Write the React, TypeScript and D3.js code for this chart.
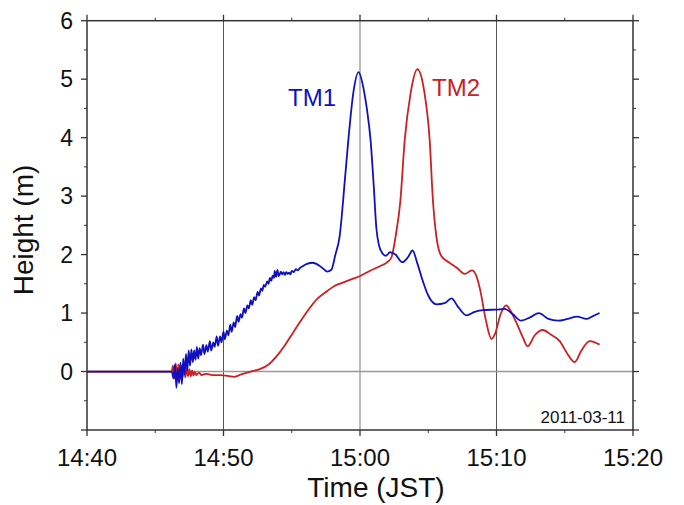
import React from "react";
import * as d3 from "d3";

// minutes after 14:40 JST, height (m)
const tm1Time = [0, 3, 6.2, 6.35, 6.45, 6.55, 6.65, 6.75, 6.85, 6.95, 7.05, 7.15, 7.25, 7.35, 7.45, 7.55, 7.65, 7.75, 7.85, 7.95, 8.05, 8.15, 8.25, 8.35, 8.5, 8.6, 8.75, 8.85, 9.0, 9.1, 9.25, 9.35, 9.5, 9.6, 9.75, 9.85, 10.0, 10.1, 10.25, 10.35, 10.5, 10.6, 10.75, 10.85, 11.0, 11.1, 11.25, 11.35, 11.5, 11.6, 11.75, 11.85, 12.0, 12.1, 12.25, 12.35, 12.5, 12.6, 12.75, 12.85, 12.95, 13.05, 13.2, 13.3, 13.4, 13.5, 13.6, 13.7, 13.75, 13.85, 13.95, 14.05, 14.2, 14.3, 14.4, 14.5, 14.6, 14.7, 14.8, 14.9, 15.0, 15.15, 15.3, 15.45, 15.6, 15.8, 16.0, 16.5, 16.8, 17.2, 17.6, 17.9, 18.2, 18.5, 18.9, 19.15, 19.5, 19.9, 20.25, 20.5, 20.77, 21.0, 21.2, 21.4, 21.65, 21.9, 22.2, 22.6, 23.1, 23.5, 23.85, 24.2, 24.6, 25.0, 25.6, 26.2, 26.7, 27.2, 27.8, 28.4, 29.0, 30.0, 30.6, 31.2, 31.8, 32.5, 33.1, 33.8, 34.5, 35.2, 35.9, 36.6, 37.0, 37.55];
const tm1Height = [0, 0, 0, -0.12, 0.12, -0.28, 0.05, -0.2, 0.15, -0.22, 0.22, -0.05, 0.3, 0.02, 0.36, 0.1, 0.38, 0.16, 0.36, 0.2, 0.42, 0.22, 0.4, 0.28, 0.46, 0.3, 0.45, 0.34, 0.52, 0.36, 0.5, 0.42, 0.6, 0.44, 0.6, 0.5, 0.68, 0.55, 0.7, 0.62, 0.8, 0.68, 0.84, 0.76, 0.95, 0.85, 0.98, 0.92, 1.08, 1.0, 1.13, 1.08, 1.22, 1.14, 1.27, 1.22, 1.36, 1.3, 1.42, 1.38, 1.48, 1.45, 1.54, 1.5, 1.6, 1.55, 1.64, 1.6, 1.72, 1.62, 1.74, 1.63, 1.71, 1.66, 1.7, 1.65, 1.7, 1.67, 1.69, 1.66, 1.72, 1.7, 1.75, 1.73, 1.77, 1.8, 1.83, 1.86, 1.84, 1.78, 1.71, 1.74, 2.0, 2.3, 3.3, 3.97, 4.75, 5.12, 4.85, 4.5, 3.97, 3.2, 2.45, 2.15, 2.02, 1.98, 2.04, 2.0, 1.87, 1.95, 2.07, 1.85, 1.55, 1.3, 1.15, 1.17, 1.25, 1.1, 0.96, 1.02, 1.05, 1.06, 1.07, 0.98, 0.87, 0.93, 1.0, 0.9, 0.87, 0.9, 0.94, 0.9, 0.94, 1.0];

const tm2Time = [0, 6.2, 6.3, 6.4, 6.5, 6.6, 6.7, 6.8, 6.9, 7.0, 7.1, 7.2, 7.3, 7.4, 7.5, 7.6, 7.7, 7.8, 7.9, 8.0, 8.2, 8.4, 8.7, 9.2, 9.8, 10.4, 10.8, 11.3, 12.0, 12.66, 13.3, 13.88, 14.5, 15.08, 15.7, 16.33, 16.9, 17.55, 18.1, 18.74, 19.4, 19.98, 20.7, 21.45, 22.0, 22.3, 22.6, 22.95, 23.28, 23.7, 24.2, 24.7, 25.1, 25.35, 25.6, 25.97, 26.5, 27.07, 27.67, 28.2, 28.5, 28.8, 29.2, 29.63, 29.9, 30.3, 30.72, 31.0, 31.45, 31.9, 32.28, 32.8, 33.38, 34.0, 34.63, 35.2, 35.73, 36.2, 36.82, 37.2, 37.55];
const tm2Height = [0, 0, 0.1, -0.12, 0.14, -0.1, 0.12, -0.12, 0.1, -0.1, 0.08, -0.1, 0.06, -0.08, 0.04, -0.08, 0.02, -0.07, 0.0, -0.06, -0.02, -0.06, -0.04, -0.06, -0.06, -0.08, -0.09, -0.05, 0.0, 0.04, 0.12, 0.26, 0.45, 0.66, 0.88, 1.09, 1.25, 1.37, 1.46, 1.52, 1.58, 1.63, 1.72, 1.8, 1.87, 1.95, 2.3, 2.9, 3.97, 4.75, 5.17, 4.8, 3.97, 2.9, 2.3, 1.97, 1.87, 1.78, 1.67, 1.73, 1.65, 1.4, 0.9, 0.56, 0.65, 0.98, 1.13, 1.05, 0.84, 0.6, 0.43, 0.62, 0.71, 0.63, 0.52, 0.3, 0.16, 0.35, 0.52, 0.5, 0.46];

const xTickMinutes = [0, 10, 20, 30, 40];
const xTickLabels = ["14:40", "14:50", "15:00", "15:10", "15:20"];
const yTicks = [-1, 0, 1, 2, 3, 4, 5, 6];
const yTickLabels = ["", "0", "1", "2", "3", "4", "5", "6"];
const seriesNames = ["TM1", "TM2"];
const dateLabel = "2011-03-11";

const W = 684, H = 505;
const L = 87, R = 633, T = 20.7, B = 430;
const FONT = "'Liberation Sans', Arial, Helvetica, sans-serif";

export default function App() {
  const x = d3.scaleLinear().domain([0, 40]).range([L, R]);
  const y = d3.scaleLinear().domain([-1, 6]).range([B, T]);
  const line = d3.line<[number, number]>().x(d => x(d[0])).y(d => y(d[1])).curve(d3.curveMonotoneX);
  const s1 = tm1Time.map((t, i) => [t, tm1Height[i]] as [number, number]);
  const s2 = tm2Time.map((t, i) => [t, tm2Height[i]] as [number, number]);
  const xMinor = d3.range(5, 40, 10);
  const yMinor = d3.range(-0.5, 6, 1);
  const axisColor = "#333";
  return (
    <svg width={W} height={H} style={{ position: "absolute", left: 0, top: 0, background: "#fff" }} fontFamily={FONT}>
      <rect x={0} y={0} width={W} height={H} fill="#fff" />
      {[10, 20, 30].map(m => (
        <line key={m} x1={x(m)} x2={x(m)} y1={T} y2={B} stroke={m === 20 ? "#aaa" : "#555"} strokeWidth={m === 20 ? 1.6 : 1} />
      ))}
      <line x1={L} x2={R} y1={y(0)} y2={y(0)} stroke="#999" strokeWidth={1.6} />
      <path d={line(s2) || ""} fill="none" stroke="#cc2020" strokeWidth={1.8} />
      <path d={line(s1) || ""} fill="none" stroke="#1010c0" strokeWidth={1.8} />
      <rect x={L} y={T} width={R - L} height={B - T} fill="none" stroke={axisColor} strokeWidth={1.5} />
      {yTicks.map((v, i) => (
        <g key={v}>
          <line x1={L - 6} x2={L} y1={y(v)} y2={y(v)} stroke={axisColor} strokeWidth={1.3} />
          <line x1={R} x2={R + 6} y1={y(v)} y2={y(v)} stroke={axisColor} strokeWidth={1.3} />
          <text x={73} y={y(v)} dy="0.36em" textAnchor="end" fontSize={23} fill="#111">{yTickLabels[i]}</text>
        </g>
      ))}
      {yMinor.map(v => (
        <g key={v}>
          <line x1={L - 3} x2={L} y1={y(v)} y2={y(v)} stroke={axisColor} strokeWidth={1} />
          <line x1={R} x2={R + 3} y1={y(v)} y2={y(v)} stroke={axisColor} strokeWidth={1} />
        </g>
      ))}
      {xTickMinutes.map((m, i) => (
        <g key={m}>
          <line x1={x(m)} x2={x(m)} y1={B} y2={B + 6} stroke={axisColor} strokeWidth={1.3} />
          <line x1={x(m)} x2={x(m)} y1={T - 6} y2={T} stroke={axisColor} strokeWidth={1.3} />
          <text x={x(m)} y={466} textAnchor="middle" fontSize={24} fill="#111">{xTickLabels[i]}</text>
        </g>
      ))}
      {xMinor.map(m => (
        <g key={m}>
          <line x1={x(m)} x2={x(m)} y1={B} y2={B + 3} stroke={axisColor} strokeWidth={1} />
          <line x1={x(m)} x2={x(m)} y1={T - 3} y2={T} stroke={axisColor} strokeWidth={1} />
        </g>
      ))}
      <text x={376} y={497} textAnchor="middle" fontSize={28} fill="#111">Time (JST)</text>
      <text transform="translate(33,230) rotate(-90)" textAnchor="middle" fontSize={28} fill="#111">Height (m)</text>
      <text x={625} y={423} textAnchor="end" fontSize={17} fill="#111">{dateLabel}</text>
      <text x={288} y={106} fontSize={24} fill="#1010c0">{seriesNames[0]}</text>
      <text x={432} y={96} fontSize={24} fill="#cc2020">{seriesNames[1]}</text>
    </svg>
  );
}
